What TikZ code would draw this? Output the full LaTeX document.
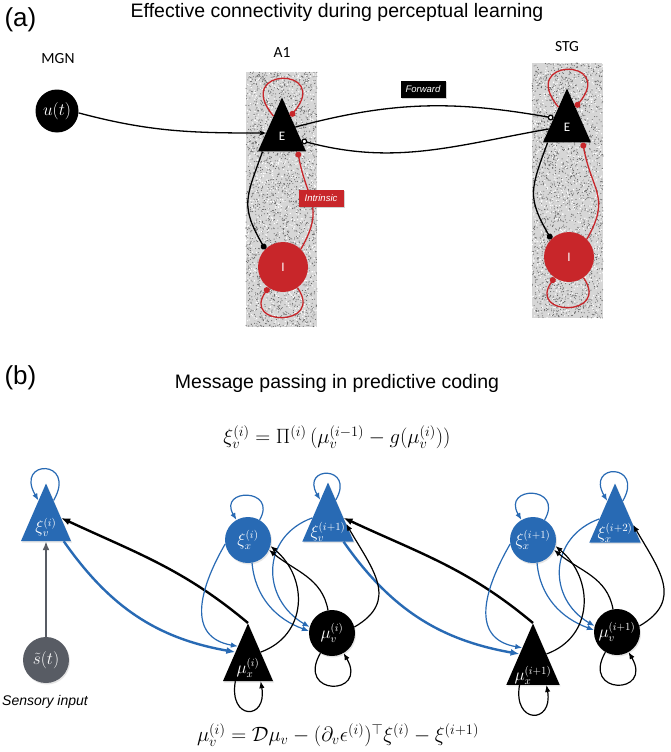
\documentclass[tikz,border=0pt]{standalone}
\usepackage{fontspec}
\setmainfont{Liberation Sans}
\newfontfamily\areafont{Carlito}
\usetikzlibrary{arrows.meta,calc,shapes.geometric,shadows}

\definecolor{errblue}{RGB}{40,106,180}
\definecolor{inhred}{RGB}{200,38,42}
\definecolor{inputgray}{RGB}{88,92,100}

\begin{document}
\begin{tikzpicture}[
  x=1pt, y=1pt,
  every node/.style={align=center},
  panelname/.style={font=\fontsize{26}{30}\selectfont},
  heading/.style={font=\fontsize{19.5}{23}\selectfont},
  regionname/.style={font=\areafont\fontsize{15.5}{18}\selectfont},
  formula/.style={font=\fontsize{21}{25}\selectfont},
  pop/.style={text=white, inner sep=0pt, font=\areafont\fontsize{13}{15}\selectfont},
  excitatory/.style={pop, fill=black, isosceles triangle, isosceles triangle apex angle=48, shape border rotate=90, minimum size=48pt},
  inhibitory/.style={pop, fill=inhred, circle, minimum size=50pt},
  driver/.style={pop, fill=black, circle, minimum size=43pt, font=\fontsize{16}{18}\selectfont},
  labelbox/.style={text=white, inner sep=0pt, minimum width=45pt, minimum height=17pt, font=\itshape\fontsize{9.5}{11}\selectfont, drop shadow={opacity=0.35, shadow xshift=1.5pt, shadow yshift=-1.5pt}},
  cell/.style={text=white, inner sep=0pt, font=\fontsize{16}{18}\selectfont, drop shadow={opacity=0.2, shadow xshift=1pt, shadow yshift=-1.5pt}},
  errtri/.style={cell, fill=errblue, isosceles triangle, isosceles triangle apex angle=47, shape border rotate=90, minimum size=50pt},
  errcirc/.style={cell, fill=errblue, circle, minimum size=46pt},
  predtri/.style={errtri, fill=black},
  predcirc/.style={errcirc, fill=black},
  inputcirc/.style={errcirc, fill=inputgray},
  drive/.style={-{Stealth[length=7pt, width=5pt]}, line width=1.3pt},
  excite/.style={-{Circle[length=6pt]}, line width=1.3pt},
  inhibit/.style={-{Circle[length=6pt]}, inhred, line width=1.3pt},
  extrinsic/.style={-{Circle[length=6pt, fill=white]}, line width=1.3pt},
  sensemsg/.style={-{Latex[length=9pt, width=7pt]}, inputgray, line width=2.3pt},
  errmsg/.style={-{Latex[length=7pt, width=5.5pt]}, errblue, line width=1.2pt},
  errmsgup/.style={errmsg, line width=2.4pt, -{Latex[length=9pt, width=7pt]}},
  predmsg/.style={-{Latex[length=7pt, width=5.5pt]}, line width=1.2pt},
  predmsgup/.style={predmsg, line width=2.4pt, -{Latex[length=9pt, width=7pt]}}]

  \path[use as bounding box, fill=white] (0,0) rectangle (670,-752);

  % noisy patches behind A1 and STG
  \pgfmathsetseed{7}
  \fill[gray!32] (246,-72) rectangle (317,-327);
  \fill[gray!32] (532,-63) rectangle (603,-318);
  \foreach \k in {1,...,2200} {
    \fill[black!60] (246+71*rnd,-72-255*rnd) circle (0.55);
    \fill[black!60] (532+71*rnd,-63-255*rnd) circle (0.55);
  }
  \foreach \k in {1,...,900} {
    \fill[white] (246+71*rnd,-72-255*rnd) circle (0.7);
    \fill[white] (532+71*rnd,-63-255*rnd) circle (0.7);
  }

  % Panel (a)
  \node[panelname, anchor=west] (pa) at (1,-20) {(a)};
  \node[heading] (ta) at (337,-12) {Effective connectivity during perceptual learning};
  \node[regionname] (mgn) at (58,-59) {MGN};
  \node[regionname] (a1) at (282,-53) {A1};
  \node[regionname] (stg) at (567,-47) {STG};

  \node[driver] (ut) at (57,-111) {$u(t)$};
  \node[excitatory, anchor=apex] (a1E) at (282,-97) {E};
  \node[inhibitory] (a1I) at (283,-267) {I};
  \node[excitatory, anchor=apex] (stgE) at (567,-88) {E};
  \node[inhibitory] (stgI) at (569,-257) {I};

  \draw[drive] (ut.-5) to[out=-15, in=180] ($(a1E.apex)!0.66!(a1E.left corner)$);
  \draw[extrinsic] ($(a1E.apex)!0.55!(a1E.right corner)$) to[out=15, in=170] ($(stgE.apex)!0.55!(stgE.left corner)$);
  \draw[extrinsic] ($(stgE.apex)!0.75!(stgE.left corner)$) to[out=190, in=-15] ($(a1E.apex)!0.8!(a1E.right corner)$);

  \draw[inhibit] ($(a1E.apex)!0.35!(a1E.left corner)$) to[out=130, in=50, min distance=65pt] ($(a1E.apex)!0.35!(a1E.right corner)$);
  \draw[inhibit] (a1I.-55) to[out=-55, in=-125, min distance=48pt] (a1I.-125);
  \draw[inhibit] (a1I.45) to[out=60, in=-80, looseness=1.3] ($(a1E.lower side)!0.65!(a1E.right corner)$);
  \draw[excite] ($(a1E.lower side)!0.8!(a1E.left corner)$) to[out=-110, in=120, looseness=1.3] (a1I.135);

  \draw[inhibit] ($(stgE.apex)!0.35!(stgE.left corner)$) to[out=130, in=50, min distance=65pt] ($(stgE.apex)!0.35!(stgE.right corner)$);
  \draw[inhibit] (stgI.-55) to[out=-55, in=-125, min distance=48pt] (stgI.-125);
  \draw[inhibit] (stgI.45) to[out=60, in=-80, looseness=1.3] ($(stgE.lower side)!0.65!(stgE.right corner)$);
  \draw[excite] ($(stgE.lower side)!0.8!(stgE.left corner)$) to[out=-110, in=120, looseness=1.3] (stgI.135);

  \node[labelbox, fill=black] (fwd) at (423,-89) {Forward};
  \node[labelbox, fill=inhred] (intr) at (321,-198) {Intrinsic};

  % Panel (b)
  \node[panelname, anchor=west] (pb) at (1,-378) {(b)};
  \node[heading] (tb) at (337,-383) {Message passing in predictive coding};
  \node[formula] (eqxi) at (337,-437) {$\xi_v^{(i)} = \Pi^{(i)}\,(\mu_v^{(i-1)} - g(\mu_v^{(i)}))$};
  \node[formula] (eqmu) at (338,-735) {$\mu_v^{(i)} = \mathcal{D}\mu_v - (\partial_v\epsilon^{(i)})^{\top}\xi^{(i)} - \xi^{(i+1)}$};

  \node[errtri, anchor=apex] (xiv) at (46,-483) {$\xi_v^{(i)}$};
  \node[inputcirc] (s) at (46,-660) {$\tilde{s}(t)$};
  \node[font=\itshape\fontsize{14}{17}\selectfont] (sensory) at (45,-702) {Sensory input};

  \node[errcirc] (xix) at (248,-540) {$\xi_x^{(i)}$};
  \node[errtri, anchor=apex] (xivnext) at (328,-482) {$\xi_v^{(i+1)}$};
  \node[predcirc] (muv) at (332,-633) {$\mu_v^{(i)}$};
  \node[predtri, anchor=apex] (mux) at (248,-623) {$\mu_x^{(i)}$};
  \node[errcirc] (xixnext) at (533,-540) {$\xi_x^{(i+1)}$};
  \node[errtri, anchor=apex] (xixtop) at (615,-483) {$\xi_x^{(i+2)}$};
  \node[predcirc] (muvnext) at (617,-632) {$\mu_v^{(i+1)}$};
  \node[predtri, anchor=apex] (muxnext) at (533,-623) {$\mu_x^{(i+1)}$};

  % self connections
  \draw[errmsg] ($(xiv.apex)!0.3!(xiv.right corner)$) to[out=60, in=120, min distance=48pt] ($(xiv.apex)!0.3!(xiv.left corner)$);
  \draw[errmsg] (xix.60) to[out=60, in=120, min distance=37pt] (xix.120);
  \draw[errmsg] ($(xivnext.apex)!0.3!(xivnext.right corner)$) to[out=60, in=120, min distance=40pt] ($(xivnext.apex)!0.3!(xivnext.left corner)$);
  \draw[errmsg] (xixnext.60) to[out=60, in=120, min distance=40pt] (xixnext.120);
  \draw[errmsg] ($(xixtop.apex)!0.3!(xixtop.right corner)$) to[out=60, in=120, min distance=44pt] ($(xixtop.apex)!0.3!(xixtop.left corner)$);
  \draw[predmsg] (muv.-120) to[out=-120, in=-60, min distance=50pt] (muv.-60);
  \draw[predmsg] (muvnext.-120) to[out=-120, in=-60, min distance=50pt] (muvnext.-60);
  \draw[predmsg] ($(mux.lower side)!0.5!(mux.left corner)$) to[out=-100, in=-80, min distance=40pt] ($(mux.lower side)!0.5!(mux.right corner)$);
  \draw[predmsg] ($(muxnext.lower side)!0.5!(muxnext.left corner)$) to[out=-100, in=-80, min distance=40pt] ($(muxnext.lower side)!0.5!(muxnext.right corner)$);

  % between levels
  \draw[sensemsg] (s) -- (xiv.lower side);
  \draw[errmsgup] ($(xiv.lower side)!0.7!(xiv.right corner)$) to[out=-55, in=170] ($(mux.apex)!0.5!(mux.left corner)$);
  \draw[predmsgup] (mux.apex) to[out=140, in=-25] ($(xiv.apex)!0.6!(xiv.right corner)$);
  \draw[errmsgup] ($(xivnext.lower side)!0.6!(xivnext.right corner)$) to[out=-55, in=170] ($(muxnext.apex)!0.5!(muxnext.left corner)$);
  \draw[predmsgup] (muxnext.apex) to[out=140, in=-25] ($(xivnext.apex)!0.6!(xivnext.right corner)$);

  % within level i
  \draw[errmsg] (xix.190) to[out=240, in=170, looseness=1.3] ($(mux.apex)!0.4!(mux.left corner)$);
  \draw[errmsg] (xix.-80) to[out=-85, in=160] (muv.175);
  \draw[errmsg] ($(xivnext.apex)!0.6!(xivnext.left corner)$) to[out=200, in=150, looseness=1.3] (muv.165);
  \draw[predmsg] ($(mux.apex)!0.5!(mux.right corner)$) to[out=20, in=-40, looseness=1.2] (xix.-15);
  \draw[predmsg] (muv.100) to[out=100, in=-40] (xix.-25);
  \draw[predmsg] (muv.15) to[out=30, in=-60, looseness=1.3] ($(xivnext.apex)!0.7!(xivnext.right corner)$);

  % within level i+1
  \draw[errmsg] (xixnext.190) to[out=240, in=170, looseness=1.3] ($(muxnext.apex)!0.4!(muxnext.left corner)$);
  \draw[errmsg] (xixnext.-80) to[out=-85, in=160] (muvnext.175);
  \draw[errmsg] ($(xixtop.apex)!0.6!(xixtop.left corner)$) to[out=200, in=150, looseness=1.3] (muvnext.165);
  \draw[predmsg] ($(muxnext.apex)!0.5!(muxnext.right corner)$) to[out=20, in=-40, looseness=1.2] (xixnext.-15);
  \draw[predmsg] (muvnext.100) to[out=100, in=-40] (xixnext.-25);
  \draw[predmsg] (muvnext.15) to[out=30, in=-60, looseness=1.3] ($(xixtop.apex)!0.7!(xixtop.right corner)$);

\end{tikzpicture}
\end{document}
